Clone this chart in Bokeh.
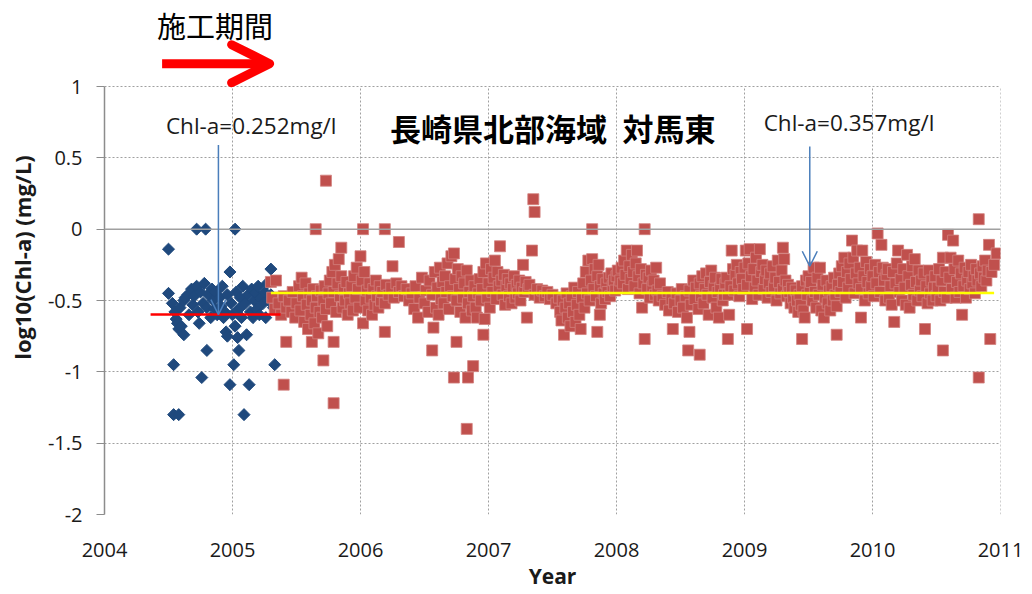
import numpy as np
from bokeh.plotting import figure
from bokeh.models import Range1d, FixedTicker, Span, Label, Arrow, OpenHead
from bokeh.embed import file_html
from bokeh.resources import INLINE

# ---- axis ticks -------------------------------------------------------
year_ticks = [2004, 2005, 2006, 2007, 2008, 2009, 2010, 2011]
log_ticks = [-2, -1.5, -1, -0.5, 0, 0.5, 1]
log_tick_labels = ["-2", "-1.5", "-1", "-0.5", "0", "0.5", "1"]

# ---- mean concentrations (mg/l) ---------------------------------------
mean_before = 0.252
mean_during = 0.357
before_span = [2004.36, 2005.375]
during_span = [2005.30, 2010.95]

# ---- survey before construction: (decimal year, log10 Chl-a) ----------
before_points = [
    (2004.50, -0.14), (2004.50, -0.45), (2004.53, -0.52), (2004.54, -0.95),
    (2004.54, -1.30), (2004.58, -1.30), (2004.55, -0.58), (2004.56, -0.63),
    (2004.57, -0.66), (2004.58, -0.70), (2004.60, -0.68), (2004.59, -0.55),
    (2004.62, -0.50), (2004.62, -0.74), (2004.63, -0.48), (2004.65, -0.46),
    (2004.66, -0.60), (2004.68, -0.42), (2004.69, -0.53), (2004.70, -0.47),
    (2004.72, 0.00), (2004.72, -0.40), (2004.73, -0.58), (2004.74, -0.66),
    (2004.75, -0.44), (2004.76, -1.04), (2004.77, -0.52), (2004.78, -0.38),
    (2004.79, 0.00), (2004.80, -0.85), (2004.80, -0.55), (2004.81, -0.46),
    (2004.83, -0.62), (2004.84, -0.42), (2004.85, -0.50), (2004.86, -0.56),
    (2004.87, -0.44), (2004.88, -0.60), (2004.90, -0.48), (2004.91, -0.54),
    (2004.92, -0.40), (2004.93, -0.62), (2004.94, -0.58), (2004.95, -0.72),
    (2004.96, -0.46), (2004.96, -0.75), (2004.98, -0.30), (2004.98, -1.09),
    (2004.99, -0.52), (2005.00, -0.60), (2005.01, -0.95), (2005.02, 0.00),
    (2005.02, -0.68), (2005.03, -0.44), (2005.04, -0.76), (2005.05, -0.85),
    (2005.05, -0.56), (2005.06, -0.48), (2005.07, -0.62), (2005.08, -0.40),
    (2005.09, -1.30), (2005.10, -0.52), (2005.11, -0.74), (2005.12, -0.46),
    (2005.13, -1.09), (2005.14, -0.58), (2005.15, -0.42), (2005.16, -0.62),
    (2005.17, -0.50), (2005.18, -0.45), (2005.19, -0.56), (2005.20, -0.40),
    (2005.21, -0.60), (2005.22, -0.48), (2005.24, -0.52), (2005.25, -0.44),
    (2005.26, -0.62), (2005.27, -0.38), (2005.28, -0.50), (2005.30, -0.46),
    (2005.30, -0.28), (2005.32, -0.55), (2005.33, -0.95),
]

# ---- survey during construction, by year ------------------------------
during_2005 = [
    (2005.30, -0.37), (2005.31, -0.48), (2005.33, -0.56), (2005.34, -0.36),
    (2005.36, -0.52), (2005.38, -0.60), (2005.40, -1.09), (2005.40, -0.47),
    (2005.42, -0.79), (2005.42, -0.55), (2005.44, -0.50), (2005.46, -0.58),
    (2005.47, -0.44), (2005.49, -0.62), (2005.50, -0.52), (2005.52, -0.40),
    (2005.53, -0.57), (2005.54, -0.34), (2005.55, -0.47), (2005.56, -0.65),
    (2005.57, -0.38), (2005.58, -0.53), (2005.59, -0.70), (2005.60, -0.45),
    (2005.61, -0.60), (2005.62, -0.79), (2005.62, -0.50), (2005.63, -0.42),
    (2005.64, -0.66), (2005.65, 0.00), (2005.65, -0.55), (2005.66, -0.47),
    (2005.67, -0.73), (2005.68, -0.58), (2005.69, -0.43), (2005.70, -0.62),
    (2005.71, -0.92), (2005.71, -0.50), (2005.72, -0.40), (2005.73, 0.34),
    (2005.73, -0.56), (2005.74, -0.68), (2005.75, -0.45), (2005.76, -0.36),
    (2005.77, -0.52), (2005.78, -0.30), (2005.79, -0.79), (2005.79, -1.22),
    (2005.79, -0.44), (2005.80, -0.25), (2005.81, -0.58), (2005.82, -0.38),
    (2005.83, -0.21), (2005.84, -0.47), (2005.85, -0.13), (2005.85, -0.33),
    (2005.86, -0.55), (2005.87, -0.42), (2005.88, -0.50), (2005.89, -0.37),
    (2005.90, -0.60), (2005.91, -0.45), (2005.92, -0.52), (2005.93, -0.40),
    (2005.94, -0.57), (2005.95, -0.33), (2005.96, -0.48), (2005.97, -0.27),
    (2005.98, -0.42), (2005.99, -0.55),
]
during_2006 = [
    (2006.00, -0.19), (2006.01, -0.36), (2006.02, 0.00), (2006.02, -0.66),
    (2006.03, -0.30), (2006.04, -0.50), (2006.05, -0.43), (2006.06, -0.57),
    (2006.07, -0.38), (2006.08, -0.48), (2006.09, -0.60), (2006.10, -0.42),
    (2006.11, -0.53), (2006.12, -0.36), (2006.13, -0.47), (2006.14, -0.55),
    (2006.15, -0.40), (2006.16, -0.50), (2006.17, -0.44), (2006.19, 0.00),
    (2006.19, -0.72), (2006.19, -0.52), (2006.20, -0.39), (2006.22, -0.46),
    (2006.24, -0.41), (2006.25, -0.26), (2006.26, -0.48), (2006.28, -0.38),
    (2006.30, -0.09), (2006.30, -0.44), (2006.32, -0.40), (2006.34, -0.47),
    (2006.36, -0.42), (2006.38, -0.50), (2006.40, -0.45), (2006.42, -0.56),
    (2006.43, -0.40), (2006.45, -0.62), (2006.46, -0.48), (2006.48, -0.34),
    (2006.50, -0.52), (2006.51, -0.43), (2006.53, -0.58), (2006.54, -0.36),
    (2006.56, -0.85), (2006.56, -0.46), (2006.57, -0.69), (2006.58, -0.30),
    (2006.59, -0.55), (2006.60, -0.41), (2006.61, -0.60), (2006.62, -0.27),
    (2006.63, -0.49), (2006.64, -0.37), (2006.65, -0.52), (2006.66, -0.33),
    (2006.67, -0.44), (2006.68, -0.24), (2006.69, -0.56), (2006.70, -0.40),
    (2006.71, -0.19), (2006.72, -0.47), (2006.73, -1.04), (2006.73, -0.17),
    (2006.74, -0.35), (2006.75, -0.79), (2006.75, -0.50), (2006.76, -0.28),
    (2006.77, -0.42), (2006.78, -0.58), (2006.79, -0.33), (2006.80, -0.48),
    (2006.81, -0.38), (2006.82, -0.62), (2006.83, -1.40), (2006.83, -0.29),
    (2006.84, -1.04), (2006.84, -0.52), (2006.85, -0.44), (2006.86, -0.36),
    (2006.87, -0.57), (2006.88, -0.96), (2006.88, -0.47), (2006.89, -0.40),
    (2006.90, -0.55), (2006.91, -0.62), (2006.92, -0.45), (2006.93, -0.35),
    (2006.94, -0.50), (2006.95, -0.42), (2006.96, -0.74), (2006.96, -0.30),
    (2006.97, -0.63), (2006.98, -0.24), (2006.99, -0.48),
]
during_2007 = [
    (2007.00, -0.38), (2007.01, -0.55), (2007.02, -0.28), (2007.03, -0.44),
    (2007.04, -0.34), (2007.05, -0.22), (2007.06, -0.49), (2007.07, -0.30),
    (2007.08, -0.40), (2007.09, -0.12), (2007.10, -0.36), (2007.11, -0.46),
    (2007.12, -0.32), (2007.13, -0.53), (2007.14, -0.40), (2007.15, -0.35),
    (2007.16, -0.47), (2007.17, -0.38), (2007.18, -0.52), (2007.19, -0.42),
    (2007.20, -0.33), (2007.21, -0.48), (2007.22, -0.39), (2007.23, -0.45),
    (2007.24, -0.36), (2007.25, -0.50), (2007.26, -0.41), (2007.27, -0.25),
    (2007.28, -0.44), (2007.29, -0.37), (2007.30, -0.62), (2007.31, -0.42),
    (2007.32, -0.39), (2007.34, -0.15), (2007.35, 0.21), (2007.36, 0.12),
    (2007.36, -0.46), (2007.38, -0.42), (2007.40, -0.48), (2007.42, -0.43),
    (2007.44, -0.47), (2007.46, -0.44), (2007.48, -0.49), (2007.50, -0.46),
    (2007.53, -0.52), (2007.55, -0.48), (2007.56, -0.58), (2007.57, -0.64),
    (2007.58, -0.50), (2007.59, -0.74), (2007.60, -0.55), (2007.61, -0.45),
    (2007.62, -0.62), (2007.63, -0.52), (2007.64, -0.68), (2007.65, -0.47),
    (2007.66, -0.58), (2007.67, -0.41), (2007.68, -0.65), (2007.69, -0.53),
    (2007.70, -0.44), (2007.71, -0.60), (2007.72, -0.70), (2007.73, -0.48),
    (2007.74, -0.38), (2007.75, -0.55), (2007.76, -0.30), (2007.77, -0.45),
    (2007.78, -0.22), (2007.79, -0.50), (2007.80, -0.36), (2007.81, 0.00),
    (2007.81, -0.21), (2007.82, -0.42), (2007.83, -0.28), (2007.84, -0.47),
    (2007.85, -0.72), (2007.85, -0.33), (2007.86, -0.25), (2007.87, -0.60),
    (2007.87, -0.40), (2007.88, -0.52), (2007.89, -0.35), (2007.90, -0.45),
    (2007.91, -0.49), (2007.92, -0.38), (2007.93, -0.44), (2007.94, -0.34),
    (2007.95, -0.47), (2007.96, -0.31), (2007.97, -0.40), (2007.98, -0.36),
    (2007.99, -0.43),
]
during_2008 = [
    (2008.00, -0.33), (2008.01, -0.29), (2008.02, -0.41), (2008.03, -0.36),
    (2008.04, -0.27), (2008.05, -0.38), (2008.06, -0.22), (2008.07, -0.32),
    (2008.08, -0.15), (2008.09, -0.42), (2008.10, -0.26), (2008.11, -0.35),
    (2008.12, -0.18), (2008.13, -0.30), (2008.14, -0.40), (2008.15, -0.24),
    (2008.16, -0.15), (2008.17, -0.33), (2008.18, -0.45), (2008.19, -0.28),
    (2008.20, -0.55), (2008.21, -0.38), (2008.22, 0.00), (2008.22, -0.77),
    (2008.23, -0.32), (2008.24, -0.42), (2008.25, -0.34), (2008.26, -0.48),
    (2008.27, -0.29), (2008.28, -0.40), (2008.29, -0.36), (2008.30, -0.46),
    (2008.31, -0.27), (2008.32, -0.43), (2008.33, -0.50), (2008.34, -0.38),
    (2008.36, -0.47), (2008.38, -0.53), (2008.40, -0.44), (2008.41, -0.57),
    (2008.43, -0.49), (2008.44, -0.70), (2008.45, -0.52), (2008.47, -0.45),
    (2008.48, -0.58), (2008.50, -0.50), (2008.51, -0.42), (2008.52, -0.55),
    (2008.54, -0.47), (2008.55, -0.62), (2008.56, -0.85), (2008.57, -0.72),
    (2008.57, -0.43), (2008.58, -0.53), (2008.60, -0.36), (2008.61, -0.49),
    (2008.62, -0.41), (2008.64, -0.56), (2008.65, -0.88), (2008.65, -0.38),
    (2008.66, -0.47), (2008.67, -0.33), (2008.68, -0.52), (2008.69, -0.42),
    (2008.70, -0.31), (2008.71, -0.46), (2008.72, -0.60), (2008.73, -0.37),
    (2008.74, -0.29), (2008.75, -0.48), (2008.76, -0.40), (2008.77, -0.34),
    (2008.78, -0.55), (2008.79, -0.44), (2008.80, -0.62), (2008.81, -0.41),
    (2008.82, -0.35), (2008.83, -0.50), (2008.84, -0.46), (2008.85, -0.38),
    (2008.86, -0.34), (2008.87, -0.77), (2008.87, -0.46), (2008.88, -0.60),
    (2008.89, -0.40), (2008.90, -0.15), (2008.91, -0.28), (2008.92, -0.43),
    (2008.93, -0.32), (2008.94, -0.25), (2008.95, -0.38), (2008.96, -0.47),
    (2008.97, -0.30), (2008.98, -0.35), (2008.99, -0.42),
]
during_2009 = [
    (2009.00, -0.27), (2009.01, -0.15), (2009.02, -0.70), (2009.02, -0.39),
    (2009.03, -0.24), (2009.04, -0.14), (2009.05, -0.33), (2009.06, -0.49),
    (2009.07, -0.28), (2009.08, -0.41), (2009.09, -0.20), (2009.10, -0.36),
    (2009.11, -0.46), (2009.12, -0.14), (2009.13, -0.30), (2009.14, -0.25),
    (2009.15, -0.42), (2009.16, -0.35), (2009.17, -0.29), (2009.18, -0.48),
    (2009.19, -0.38), (2009.20, -0.31), (2009.21, -0.44), (2009.22, -0.26),
    (2009.23, -0.40), (2009.24, -0.34), (2009.25, -0.50), (2009.26, -0.22),
    (2009.27, -0.37), (2009.28, -0.45), (2009.29, -0.29), (2009.30, -0.13),
    (2009.30, -0.42), (2009.31, -0.21), (2009.32, -0.36), (2009.33, -0.47),
    (2009.34, -0.39), (2009.35, -0.44), (2009.36, -0.52), (2009.37, -0.41),
    (2009.38, -0.48), (2009.39, -0.55), (2009.40, -0.43), (2009.41, -0.50),
    (2009.42, -0.58), (2009.43, -0.46), (2009.44, -0.53), (2009.45, -0.77),
    (2009.45, -0.40), (2009.46, -0.57), (2009.47, -0.62), (2009.48, -0.36),
    (2009.49, -0.46), (2009.50, -0.33), (2009.51, -0.41), (2009.52, -0.37),
    (2009.53, -0.50), (2009.54, -0.27), (2009.55, -0.44), (2009.56, -0.55),
    (2009.57, -0.34), (2009.58, -0.46), (2009.59, -0.27), (2009.60, -0.57),
    (2009.61, -0.39), (2009.62, -0.62), (2009.63, -0.48), (2009.64, -0.36),
    (2009.65, -0.52), (2009.66, -0.43), (2009.67, -0.57), (2009.68, -0.40),
    (2009.69, -0.50), (2009.70, -0.34), (2009.71, -0.46), (2009.72, -0.74),
    (2009.72, -0.54), (2009.73, -0.39), (2009.74, -0.31), (2009.75, -0.44),
    (2009.76, -0.26), (2009.77, -0.37), (2009.78, -0.20), (2009.79, -0.48),
    (2009.80, -0.30), (2009.81, -0.41), (2009.82, -0.24), (2009.83, -0.35),
    (2009.84, -0.08), (2009.85, -0.20), (2009.86, -0.45), (2009.87, -0.31),
    (2009.88, -0.15), (2009.89, -0.38), (2009.90, -0.27), (2009.91, -0.62),
    (2009.91, -0.42), (2009.92, -0.15), (2009.93, -0.33), (2009.94, -0.50),
    (2009.95, -0.23), (2009.96, -0.37), (2009.97, -0.45), (2009.98, -0.28),
    (2009.99, -0.40),
]
during_2010 = [
    (2010.00, -0.33), (2010.01, -0.47), (2010.02, -0.25), (2010.03, -0.38),
    (2010.04, -0.03), (2010.05, -0.30), (2010.06, -0.44), (2010.07, -0.11),
    (2010.08, -0.27), (2010.09, -0.36), (2010.10, -0.50), (2010.11, -0.32),
    (2010.12, -0.28), (2010.13, -0.48), (2010.14, -0.40), (2010.15, -0.53),
    (2010.16, -0.30), (2010.17, -0.65), (2010.18, -0.38), (2010.19, -0.24),
    (2010.20, -0.15), (2010.21, -0.44), (2010.22, -0.35), (2010.23, -0.50),
    (2010.24, -0.28), (2010.25, -0.41), (2010.26, -0.53), (2010.27, -0.18),
    (2010.28, -0.33), (2010.29, -0.55), (2010.30, -0.39), (2010.31, -0.26),
    (2010.32, -0.46), (2010.33, -0.21), (2010.34, -0.37), (2010.35, -0.50),
    (2010.36, -0.29), (2010.37, -0.43), (2010.38, -0.36), (2010.39, -0.47),
    (2010.40, -0.31), (2010.41, -0.70), (2010.42, -0.40), (2010.43, -0.52),
    (2010.44, -0.29), (2010.45, -0.45), (2010.46, -0.36), (2010.47, -0.50),
    (2010.48, -0.41), (2010.49, -0.33), (2010.50, -0.47), (2010.51, -0.41),
    (2010.52, -0.28), (2010.53, -0.50), (2010.54, -0.36), (2010.55, -0.85),
    (2010.55, -0.20), (2010.56, -0.44), (2010.57, -0.30), (2010.58, -0.48),
    (2010.59, -0.04), (2010.60, -0.34), (2010.61, -0.20), (2010.62, -0.42),
    (2010.63, -0.08), (2010.64, -0.28), (2010.65, -0.48), (2010.66, -0.37),
    (2010.67, -0.22), (2010.68, -0.44), (2010.69, -0.31), (2010.70, -0.60),
    (2010.71, -0.40), (2010.72, -0.27), (2010.73, -0.48), (2010.74, -0.36),
    (2010.75, -0.30), (2010.76, -0.42), (2010.77, -0.25), (2010.78, -0.38),
    (2010.79, -0.33), (2010.80, -0.45), (2010.81, -0.28), (2010.82, -0.36),
    (2010.83, 0.07), (2010.83, -1.04), (2010.84, -0.31), (2010.85, -0.40),
    (2010.86, -0.26), (2010.87, -0.34), (2010.88, -0.22), (2010.89, -0.36),
    (2010.90, -0.29), (2010.91, -0.11), (2010.92, -0.77), (2010.93, -0.30),
    (2010.95, -0.25), (2010.97, -0.17),
]

during_points = (during_2005 + during_2006 + during_2007 + during_2008
                 + during_2009 + during_2010)
bx, by = zip(*before_points)
dx, dy = zip(*during_points)

TICK_FONT = "Open Sans"
JP_FONT = "Noto Sans CJK JP"

# The frame reaches the top of the canvas so that the construction-period
# marker above the value range stays visible; axis and grid lines are kept
# within the value range -2 .. 1.
Y_MIN, Y_MAX = -2, 1
FRAME_H = 514
UNIT_PX = 428 / (Y_MAX - Y_MIN)
y_top = Y_MIN + FRAME_H / UNIT_PX

p = figure(frame_width=896, frame_height=FRAME_H,
           min_border_left=104, min_border_right=32,
           min_border_top=0, min_border_bottom=80,
           x_range=Range1d(2004, 2011), y_range=Range1d(Y_MIN, y_top),
           output_backend="svg", toolbar_location=None,
           background_fill_color="white", border_fill_color="white")
p.outline_line_color = None

# ---- axes -------------------------------------------------------------
p.xaxis.ticker = FixedTicker(ticks=year_ticks)
p.xaxis.major_label_overrides = {y: str(y) for y in year_ticks}
p.xaxis.axis_line_color = None
p.xaxis.major_tick_line_color = None
p.xaxis.minor_tick_line_color = None
p.xaxis.major_label_standoff = 22
p.xaxis.major_label_text_font = TICK_FONT
p.xaxis.major_label_text_font_size = "20px"
p.xaxis.major_label_text_color = "#1a1a1a"
p.xaxis.axis_label = "Year"
p.xaxis.axis_label_text_font = TICK_FONT
p.xaxis.axis_label_text_font_size = "21px"
p.xaxis.axis_label_text_font_style = "bold"
p.xaxis.axis_label_text_color = "#1a1a1a"
p.xaxis.axis_label_standoff = 2

p.yaxis.bounds = (Y_MIN, Y_MAX)
p.yaxis.ticker = FixedTicker(ticks=log_ticks)
p.yaxis.major_label_overrides = dict(zip(log_ticks, log_tick_labels))
p.yaxis.axis_line_color = "#8c8c8c"
p.yaxis.axis_line_width = 1.5
p.yaxis.major_tick_line_color = "#8c8c8c"
p.yaxis.major_tick_out = 8
p.yaxis.major_tick_in = 0
p.yaxis.minor_tick_line_color = None
p.yaxis.major_label_standoff = 14
p.yaxis.major_label_text_font = TICK_FONT
p.yaxis.major_label_text_font_size = "20px"
p.yaxis.major_label_text_color = "#1a1a1a"
p.yaxis.axis_label = "log10(Chl-a) (mg/L)"
p.yaxis.axis_label_text_font = TICK_FONT
p.yaxis.axis_label_text_font_size = "22px"
p.yaxis.axis_label_text_font_style = "bold"
p.yaxis.axis_label_text_color = "#1a1a1a"
p.yaxis.axis_label_standoff = 8

GRID_COLOR = "#a0a0a0"
p.xgrid.visible = False
p.ygrid.grid_line_color = GRID_COLOR
p.ygrid.grid_line_dash = "2 2"
p.ygrid.grid_line_width = 1
# vertical grid lines at each year, limited to the value range
p.segment(x0=year_ticks, y0=[Y_MIN] * len(year_ticks),
          x1=year_ticks, y1=[Y_MAX] * len(year_ticks),
          line_color=GRID_COLOR, line_dash="2 2", line_width=1)

# horizontal axis line crossing at zero
p.add_layout(Span(location=0, dimension="width", line_color=GRID_COLOR,
                  line_width=1.5))

# ---- data -------------------------------------------------------------
p.scatter(bx, by, marker="square", angle=np.pi / 4, size=8.5,
          fill_color="#1F497D", line_color="#1F497D")
p.scatter(dx, dy, marker="square", size=11,
          fill_color="#C0504D", line_color="#D2807E", line_width=0.8)

log_before = np.log10(mean_before)
log_during = np.log10(mean_during)
p.line(before_span, [log_before, log_before], line_color="#FF0000", line_width=2.5)
p.line(during_span, [log_during, log_during], line_color="#FFFF00", line_width=2.5)

# ---- annotations ------------------------------------------------------
blue = "#4A7EBB"
p.add_layout(Arrow(end=OpenHead(size=15, line_color=blue, line_width=1.5),
                   x_start=2004.89, y_start=0.59, x_end=2004.89, y_end=log_before,
                   line_color=blue, line_width=1.5))
p.add_layout(Arrow(end=OpenHead(size=15, line_color=blue, line_width=1.5),
                   x_start=2009.51, y_start=0.58, x_end=2009.51, y_end=-0.26,
                   line_color=blue, line_width=1.5))

p.add_layout(Label(x=2004.48, y=0.73, text=f"Chl-a={mean_before:.3f}mg/l",
                   text_font=TICK_FONT, text_font_size="22.5px",
                   text_color="#1a1a1a", text_baseline="middle"))
p.add_layout(Label(x=2009.15, y=0.745, text=f"Chl-a={mean_during:.3f}mg/l",
                   text_font=TICK_FONT, text_font_size="22.5px",
                   text_color="#1a1a1a", text_baseline="middle"))
p.add_layout(Label(x=2006.23, y=0.71, text="長崎県北部海域\u2002対馬東",
                   text_font=JP_FONT, text_font_size="31px",
                   text_font_style="bold", text_color="#000000",
                   text_baseline="middle"))

# construction period marker above the value range
p.add_layout(Label(x=2004.41, y=1.43, text="施工期間",
                   text_font=JP_FONT, text_font_size="29px",
                   text_color="#000000", text_baseline="middle"))
p.add_layout(Arrow(end=OpenHead(size=38, line_color="#FF0000", line_width=9,
                                line_cap="round", line_join="round"),
                   x_start=2004.45, y_start=1.16, x_end=2005.29, y_end=1.16,
                   line_color="#FF0000", line_width=9))

open("out.html", "w").write(file_html(p, INLINE))
